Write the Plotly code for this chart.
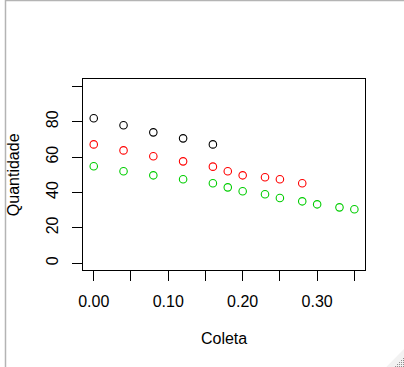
import plotly.graph_objects as go

W, H = 404, 367

# Data
x_black = [0.00, 0.04, 0.08, 0.12, 0.16]
y_black = [82.0, 78.0, 74.0, 70.6, 67.2]

x_red = [0.00, 0.04, 0.08, 0.12, 0.16, 0.18, 0.20, 0.23, 0.25, 0.28]
y_red = [67.2, 63.8, 60.5, 57.6, 54.6, 52.0, 49.7, 48.6, 47.5, 45.2]

x_green = [0.00, 0.04, 0.08, 0.12, 0.16, 0.18, 0.20, 0.23, 0.25, 0.28, 0.30, 0.33, 0.35]
y_green = [54.8, 52.0, 49.7, 47.5, 45.2, 42.9, 40.7, 39.0, 36.9, 35.0, 33.3, 31.6, 30.5]

x_ticks = [0.00, 0.05, 0.10, 0.15, 0.20, 0.25, 0.30, 0.35]
x_ticklabels = ["0.00", "", "0.10", "", "0.20", "", "0.30", ""]
y_ticks = [0, 20, 40, 60, 80, 100]
y_ticklabels = ["0", "20", "40", "60", "80", ""]

# plot box in pixels
L, R, T, B = 79.3, 364.3, 79.3, 270.3

fig = go.Figure()
for xs, ys, c in [(x_black, y_black, "#000000"), (x_red, y_red, "#FF0000"), (x_green, y_green, "#00CD00")]:
    fig.add_trace(go.Scatter(
        x=xs, y=ys, mode="markers",
        marker=dict(symbol="circle-open", size=7.5, color=c, line=dict(width=1.1, color=c)),
        showlegend=False, hoverinfo="skip"))

font = dict(family="Liberation Sans, Arial, sans-serif", size=16, color="#000000")

fig.update_layout(
    width=W, height=H,
    margin=dict(l=0, r=0, t=0, b=0, pad=0),
    paper_bgcolor="white", plot_bgcolor="white",
    font=font,
    xaxis=dict(
        domain=[L / W, R / W], range=[-0.014, 0.364],
        tickmode="array", tickvals=x_ticks, ticktext=x_ticklabels,
        ticks="outside", ticklen=10, tickwidth=1, tickcolor="black",
        showline=True, linecolor="black", linewidth=1, mirror=True,
        showgrid=False, zeroline=False, tickfont=font, ticklabelstandoff=6,
        title=dict(text="Coleta", font=font, standoff=24),
    ),
    yaxis=dict(
        domain=[1 - B / H, 1 - T / H], range=[-4, 104],
        tickmode="array", tickvals=y_ticks, ticktext=y_ticklabels,
        ticks="outside", ticklen=10, tickwidth=1, tickcolor="black",
        showline=True, linecolor="black", linewidth=1, mirror=True,
        showgrid=False, zeroline=False, tickfont=font, tickangle=-90,
        ticklabelstandoff=8,
        title=dict(text="Quantidade", font=font, standoff=20),
    ),
)

# window frame (gray lines at top & left)
shapes = [
    dict(type="line", xref="paper", yref="paper", x0=0, x1=1, y0=1 - 0.5 / H, y1=1 - 0.5 / H,
         line=dict(color="#B4B4B4", width=1.5)),
    dict(type="line", xref="paper", yref="paper", x0=0.5 / W, x1=0.5 / W, y0=0, y1=1,
         line=dict(color="#B4B4B4", width=1.5)),
    dict(type="path", xref="paper", yref="paper",
         path=f"M {386/W} 0 L 1 0 L 1 {18/H} Z",
         fillcolor="#F2F2F2", line=dict(width=0)),
]
for i in range(5):
    for j in range(5):
        if i + j >= 4:
            px = 395 + 2 * i
            py = 358 + 2 * j
            shapes.append(dict(type="rect", xref="paper", yref="paper",
                               x0=px / W, x1=(px + 1) / W,
                               y0=1 - (py + 1) / H, y1=1 - py / H,
                               fillcolor="#8C8C8C", line=dict(width=0)))
fig.update_layout(shapes=shapes)

fig.write_html("out.html", config={"displayModeBar": False},
               post_script="document.body.style.margin='0';document.body.style.overflow='hidden';")
